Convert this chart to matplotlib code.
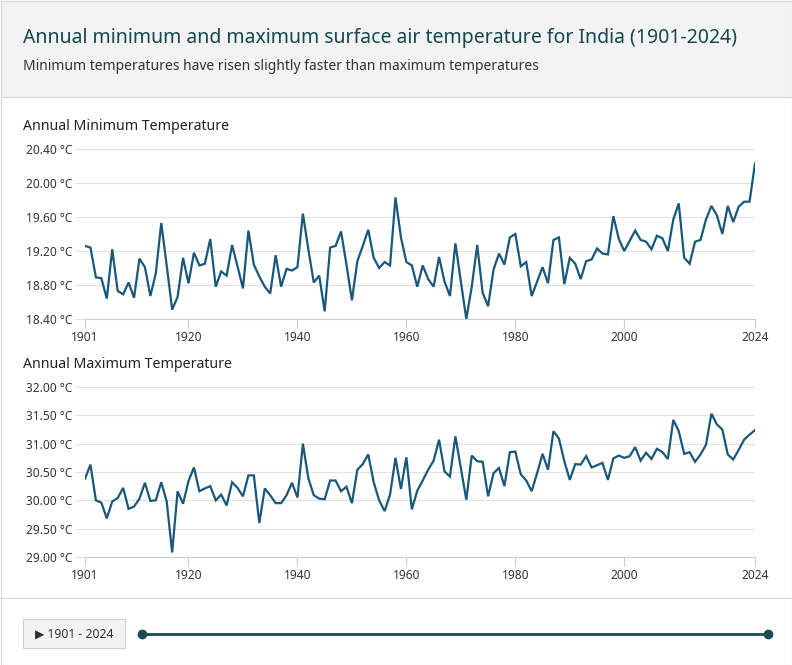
import matplotlib
matplotlib.use("Agg")
import matplotlib.pyplot as plt
from matplotlib.patches import Rectangle
from matplotlib.lines import Line2D
from matplotlib.ticker import FixedLocator, FuncFormatter

plt.rcParams['font.family'] = ['Noto Sans', 'DejaVu Sans']

years = list(range(1901, 2025))

tmin = [19.26, 19.24, 18.89, 18.88, 18.64, 19.22, 18.73, 18.69, 18.83, 18.65,
        19.11, 19.01, 18.67, 18.94, 19.53, 19.03, 18.51, 18.66, 19.12, 18.82,
        19.18, 19.03, 19.05, 19.34, 18.78, 18.96, 18.91, 19.27, 19.02, 18.76,
        19.44, 19.04, 18.90, 18.78, 18.70, 19.15, 18.78, 18.99, 18.97, 19.01,
        19.64, 19.22, 18.83, 18.91, 18.49, 19.24, 19.26, 19.43, 19.04, 18.62,
        19.08, 19.26, 19.45, 19.12, 19.00, 19.07, 19.03, 19.83, 19.36, 19.07,
        19.03, 18.78, 19.03, 18.87, 18.78, 19.13, 18.84, 18.67, 19.29, 18.84,
        18.40, 18.78, 19.27, 18.71, 18.55, 18.98, 19.17, 19.04, 19.36, 19.40,
        19.02, 19.07, 18.67, 18.84, 19.01, 18.82, 19.33, 19.36, 18.81, 19.12,
        19.05, 18.87, 19.08, 19.10, 19.23, 19.17, 19.16, 19.61, 19.34, 19.20,
        19.32, 19.44, 19.33, 19.31, 19.22, 19.38, 19.35, 19.20, 19.57, 19.76,
        19.12, 19.05, 19.31, 19.33, 19.57, 19.73, 19.62, 19.40, 19.73, 19.54,
        19.72, 19.78, 19.78, 20.23]

tmax = [30.38, 30.63, 30.00, 29.96, 29.68, 29.98, 30.04, 30.22, 29.85, 29.89,
        30.03, 30.31, 29.99, 30.00, 30.32, 29.98, 29.08, 30.16, 29.94, 30.34,
        30.58, 30.16, 30.21, 30.25, 30.00, 30.10, 29.91, 30.32, 30.22, 30.07,
        30.44, 30.44, 29.60, 30.21, 30.09, 29.95, 29.95, 30.09, 30.31, 30.05,
        31.00, 30.39, 30.09, 30.03, 30.02, 30.35, 30.35, 30.16, 30.24, 29.95,
        30.54, 30.64, 30.81, 30.32, 30.00, 29.81, 30.10, 30.75, 30.20, 30.76,
        29.84, 30.17, 30.35, 30.54, 30.70, 31.07, 30.51, 30.42, 31.13, 30.57,
        30.01, 30.79, 30.69, 30.68, 30.07, 30.48, 30.57, 30.25, 30.85, 30.86,
        30.46, 30.35, 30.16, 30.48, 30.82, 30.54, 31.22, 31.09, 30.69, 30.36,
        30.64, 30.63, 30.78, 30.58, 30.62, 30.66, 30.36, 30.74, 30.79, 30.75,
        30.78, 30.94, 30.70, 30.84, 30.73, 30.91, 30.85, 30.73, 31.42, 31.22,
        30.82, 30.85, 30.68, 30.81, 30.98, 31.53, 31.34, 31.25, 30.81, 30.72,
        30.89, 31.07, 31.16, 31.24]

xticks = [1901, 1920, 1940, 1960, 1980, 2000, 2024]
min_ticks = [18.4, 18.8, 19.2, 19.6, 20.0, 20.4]
max_ticks = [29.0, 29.5, 30.0, 30.5, 31.0, 31.5, 32.0]

title = "Annual minimum and maximum surface air temperature for India (1901-2024)"
subtitle = "Minimum temperatures have risen slightly faster than maximum temperatures"
panel_titles = ["Annual Minimum Temperature", "Annual Maximum Temperature"]
range_label = "\u25B6 1901 - 2024"

W, H = 792, 665
LINE_COLOR = "#19587a"
TEAL = "#15494f"
GRID = "#e2e2e2"

fig = plt.figure(figsize=(W / 100, H / 100), dpi=100)
fig.patch.set_facecolor("white")


def fx(px):
    return px / W


def fy(py):
    return 1 - py / H


def rect(x0, y0, x1, y1, fc, ec="none", lw=1.0, z=0):
    fig.add_artist(Rectangle((fx(x0), fy(y1)), fx(x1) - fx(x0), fy(y0) - fy(y1),
                             transform=fig.transFigure, facecolor=fc,
                             edgecolor=ec, linewidth=lw, zorder=z))


def hline(x0, x1, y, color, lw=1.0, z=1):
    fig.add_artist(Line2D([fx(x0), fx(x1)], [fy(y), fy(y)], transform=fig.transFigure,
                          color=color, linewidth=lw, zorder=z))


# header
rect(0.5, 0.5, W - 0.5, 97, "#f3f3f3", "#d9d9d9", 0.8)
rect(0.5, 97, W - 0.5, H - 0.5, "none", "#d9d9d9", 0.8)
hline(0, W, 598, "#d9d9d9", 0.8)

fig.text(fx(23), fy(38), title, fontsize=14.0, color=TEAL, va="center", ha="left")
fig.text(fx(23), fy(67), subtitle, fontsize=10.0, color="#333333", va="center", ha="left")


def panel(top_px, bottom_px, data, ticks, label, title_y):
    ax = fig.add_axes([fx(85), fy(bottom_px), fx(755) - fx(85), fy(top_px) - fy(bottom_px)])
    ax.plot(years, data, color=LINE_COLOR, linewidth=1.6, solid_joinstyle="miter", zorder=3)
    ax.set_xlim(1901, 2024)
    ax.set_ylim(ticks[0], ticks[-1])
    ax.yaxis.set_major_locator(FixedLocator(ticks))
    ax.yaxis.set_major_formatter(FuncFormatter(lambda v, p: f"{v:.2f} \u00b0C"))
    ax.xaxis.set_major_locator(FixedLocator(xticks))
    ax.xaxis.set_major_formatter(FuncFormatter(lambda v, p: f"{int(round(v))}"))
    ax.grid(axis="y", color=GRID, linewidth=0.8)
    ax.set_axisbelow(True)
    for s in ["top", "right", "left"]:
        ax.spines[s].set_visible(False)
    ax.spines["bottom"].set_color("#cccccc")
    ax.spines["bottom"].set_linewidth(0.8)
    ax.tick_params(axis="y", length=7.2, width=0.8, color=GRID, pad=2,
                   labelsize=8.6, labelcolor="#333333")
    ax.tick_params(axis="x", length=6.5, width=0.8, color="#cccccc", pad=2,
                   labelsize=8.6, labelcolor="#333333")
    ax.patch.set_alpha(0)
    fig.text(fx(23), fy(title_y), label, fontsize=10.2, color="#222222", va="center", ha="left")
    return ax


panel(149, 319, tmin, min_ticks, panel_titles[0], 126)
panel(387, 557, tmax, max_ticks, panel_titles[1], 364)

# footer control
rect(23, 619, 125, 648, "#f3f3f3", "#cfcfcf", 0.8)
fig.text(fx(74), fy(634), range_label, fontsize=8.8, color="#333333",
         va="center", ha="center", family=["Noto Sans", "DejaVu Sans"])
hline(142, 768, 634, "#1d4b53", 2.0, 2)
for px in (142, 768):
    fig.add_artist(Line2D([fx(px)], [fy(634)], transform=fig.transFigure, marker="o",
                          markersize=6, color="#1d4b53", zorder=3))

fig.savefig("out.png", dpi=100)
